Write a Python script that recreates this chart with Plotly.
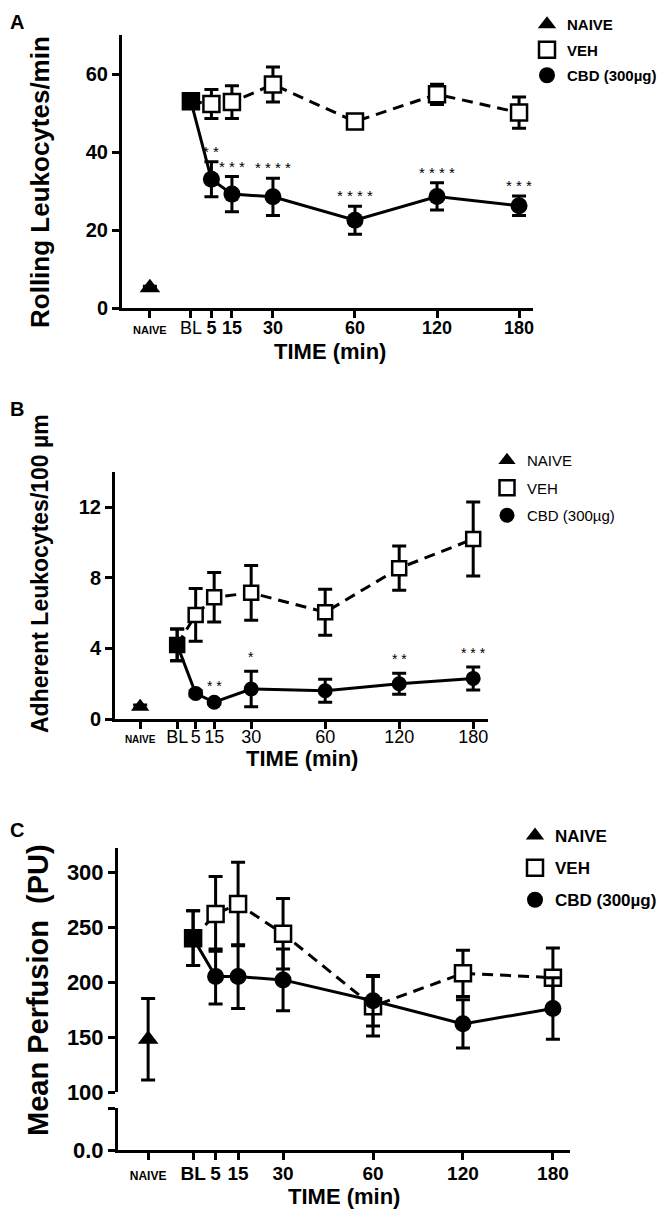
import plotly.graph_objects as go

# ---------------- data ----------------
CATEGORIES = ["NAIVE", "BL", "5", "15", "30", "60", "120", "180"]
TIMES = ["BL", "5", "15", "30", "60", "120", "180"]

# Panel A: Rolling leukocytes/min
A_NAIVE = [5.2]
A_NAIVE_ERR = [0.4]
A_VEH = [53.0, 52.3, 52.8, 57.3, 47.8, 54.8, 50.1]
A_VEH_ERR = [1.5, 3.7, 4.2, 4.5, 0.8, 2.6, 4.0]
A_CBD = [53.0, 33.0, 29.2, 28.5, 22.5, 28.6, 26.2]
A_CBD_ERR = [1.5, 4.5, 4.5, 4.8, 3.6, 3.5, 2.5]
A_STARS = ["", "**", "***", "****", "****", "****", "***"]

# Panel B: Adherent leukocytes/100 µm
B_NAIVE = [0.7]
B_NAIVE_ERR = [0.1]
B_VEH = [4.2, 5.9, 6.9, 7.15, 6.05, 8.55, 10.2]
B_VEH_ERR = [0.9, 1.5, 1.4, 1.55, 1.3, 1.25, 2.1]
B_CBD = [4.2, 1.45, 0.95, 1.7, 1.6, 2.0, 2.3]
B_CBD_ERR = [0.9, 0.15, 0.1, 1.0, 0.65, 0.6, 0.65]
B_STARS = ["", "", "**", "*", "", "**", "***"]

# Panel C: Mean perfusion (PU)
C_NAIVE = [148]
C_NAIVE_ERR = [37]
C_VEH = [240, 262, 271, 244, 178, 208, 204]
C_VEH_ERR = [25, 34, 38, 32, 27, 21, 27]
C_CBD = [240, 205, 205, 202, 183, 162, 176]
C_CBD_ERR = [25, 25, 29, 28, 23, 22, 28]

LEGEND_NAMES = ["NAIVE", "VEH", "CBD (300µg)"]

# ---------------- layout constants ----------------
PAGE_W, PAGE_H = 668, 1218
BODY = 8                      # default page margin around the plot div
W, H = PAGE_W - 2 * BODY, PAGE_H - 2 * BODY
FONT = "Liberation Sans, Arial, sans-serif"
SLOT = [0, 1, 1.5, 2, 3, 5, 7, 9]  # horizontal slot of each category on the axis
POS = dict(zip(CATEGORIES, SLOT))


def fx(p):
    return (p - BODY) / W


def fy(p):
    return 1 - (p - BODY) / H


def ydom(top, bottom):
    return [fy(bottom), fy(top)]


fig = go.Figure()

AXIS = dict(showline=True, linewidth=3, linecolor="black", ticks="outside",
            ticklen=7, tickwidth=3, tickcolor="black", showgrid=False,
            zeroline=False, fixedrange=True, automargin=False)


def xticktext(style):
    out = []
    for c in CATEGORIES:
        if c == "NAIVE":
            out.append("<span style='font-size:%dpx'><b>NAIVE</b></span>" % style["naive"])
        elif c == "BL":
            out.append("<b>BL</b>" if style["bl_bold"] else "BL")
        else:
            out.append("<b>%s</b>" % c if style["num_bold"] else c)
    return out


def add_panel(xa, ya, naive, naive_err, veh, veh_err, cbd, cbd_err, msize, lw, cap):
    xs = [POS[t] for t in TIMES]
    fig.add_trace(go.Scatter(
        x=[POS["NAIVE"]], y=naive, mode="markers", xaxis=xa, yaxis=ya,
        marker=dict(symbol="triangle-up", size=msize + 2, color="black", opacity=1),
        error_y=dict(type="data", array=naive_err, color="black", thickness=lw, width=cap),
        showlegend=False, hoverinfo="skip"))
    fig.add_trace(go.Scatter(
        x=xs, y=veh, mode="lines+markers", xaxis=xa, yaxis=ya,
        line=dict(color="black", width=lw, dash="11px,7px"),
        marker=dict(symbol="square", size=msize, color="white", opacity=1,
                    line=dict(color="black", width=2.5)),
        error_y=dict(type="data", array=veh_err, color="black", thickness=lw, width=cap),
        showlegend=False, hoverinfo="skip"))
    fig.add_trace(go.Scatter(
        x=xs, y=cbd, mode="lines+markers", xaxis=xa, yaxis=ya,
        line=dict(color="black", width=lw),
        marker=dict(symbol=["square"] + ["circle"] * (len(TIMES) - 1),
                    size=[msize] + [msize + 1] * (len(TIMES) - 1), color="black",
                    opacity=1, line=dict(width=0)),
        error_y=dict(type="data", array=cbd_err, color="black", thickness=lw, width=cap),
        showlegend=False, hoverinfo="skip"))


def add_stars(xref, yref, cbd, cbd_err, stars, yshift, size):
    for t, v, e, s in zip(TIMES, cbd, cbd_err, stars):
        if not s:
            continue
        fig.add_annotation(x=POS[t], y=v + e, xref=xref, yref=yref, text=" ".join(s),
                           showarrow=False, yanchor="bottom", yshift=yshift,
                           font=dict(family=FONT, size=size, color="black"))


def add_legend(lname, xa, ya, msize):
    specs = [dict(symbol="triangle-up", color="black"),
             dict(symbol="square", color="white", line=dict(color="black", width=2.5)),
             dict(symbol="circle", color="black")]
    for i, (nm, mk) in enumerate(zip(LEGEND_NAMES, specs)):
        fig.add_trace(go.Scatter(x=[None], y=[None], mode="markers", xaxis=xa, yaxis=ya,
                                 marker=dict(size=msize, **mk), name=nm, legend=lname,
                                 legendgroup=lname + str(i), showlegend=True,
                                 hoverinfo="skip"))


# ---- Panel A ----
add_panel("x", "y", A_NAIVE, A_NAIVE_ERR, A_VEH, A_VEH_ERR, A_CBD, A_CBD_ERR, 16, 3, 7)
add_stars("x", "y", A_CBD, A_CBD_ERR, A_STARS, 0, 15)
add_legend("legend", "x", "y", 16)

# ---- Panel B ----
add_panel("x2", "y2", B_NAIVE, B_NAIVE_ERR, B_VEH, B_VEH_ERR, B_CBD, B_CBD_ERR, 14, 3, 7)
add_stars("x2", "y2", B_CBD, B_CBD_ERR, B_STARS, 4, 14)
add_legend("legend2", "x2", "y2", 15)

# ---- Panel C ----
add_panel("x3", "y3", C_NAIVE, C_NAIVE_ERR, C_VEH, C_VEH_ERR, C_CBD, C_CBD_ERR, 16, 3, 7)
fig.add_trace(go.Scatter(x=[None], y=[None], xaxis="x3", yaxis="y4", mode="markers",
                         showlegend=False, hoverinfo="skip"))
add_legend("legend3", "x3", "y3", 16)

tick_b = dict(family=FONT, size=20, color="black", weight="bold")

fig.update_layout(
    width=W, height=H, autosize=False,
    margin=dict(l=0, r=0, t=0, b=0, pad=0, autoexpand=False),
    paper_bgcolor="white", plot_bgcolor="white",
    font=dict(family=FONT, color="black"),
    # panel A
    xaxis=dict(AXIS, domain=[fx(122), fx(533)], range=[-0.68, 9.34], anchor="y",
               tickvals=SLOT, ticktext=xticktext(dict(naive=11, bl_bold=False, num_bold=True)),
               tickfont=dict(family=FONT, size=18, color="black"), ticklabelstandoff=-6),
    yaxis=dict(AXIS, domain=ydom(35, 308), range=[0, 70], anchor="x",
               tickvals=[0, 20, 40, 60], tickfont=tick_b),
    # panel B
    xaxis2=dict(AXIS, domain=[fx(115), fx(488)], range=[-0.68, 9.4], anchor="y2",
                tickvals=SLOT, ticktext=xticktext(dict(naive=10, bl_bold=False, num_bold=False)),
                tickfont=dict(family=FONT, size=18, color="black"), ticklabelstandoff=-8),
    yaxis2=dict(AXIS, domain=ydom(472, 719), range=[0, 14], anchor="x2",
                tickvals=[0, 4, 8, 12], tickfont=tick_b),
    # panel C (broken y axis)
    xaxis3=dict(AXIS, domain=[fx(118), fx(570)], range=[-0.67, 9.38], anchor="y4",
                tickvals=SLOT, ticktext=xticktext(dict(naive=12, bl_bold=True, num_bold=True)),
                tickfont=dict(family=FONT, size=19, color="black"), ticklabelstandoff=-3),
    yaxis3=dict(AXIS, domain=ydom(848, 1092), range=[100, 322], anchor="x3",
                tickvals=[100, 150, 200, 250, 300], tickfont=dict(tick_b, size=22)),
    yaxis4=dict(AXIS, domain=ydom(1108, 1150), range=[0, 1], anchor="x3",
                tickvals=[0, 1], ticktext=["0.0", ""], tickfont=dict(tick_b, size=22)),
    legend=dict(x=fx(527), y=fy(8), xanchor="left", yanchor="top",
                bgcolor="rgba(0,0,0,0)", tracegroupgap=3, itemsizing="trace",
                font=dict(family=FONT, size=15, color="black", weight="bold")),
    legend2=dict(x=fx(487), y=fy(444), xanchor="left", yanchor="top",
                 bgcolor="rgba(0,0,0,0)", tracegroupgap=5, itemsizing="trace",
                 font=dict(family=FONT, size=15, color="black")),
    legend3=dict(x=fx(515), y=fy(818), xanchor="left", yanchor="top",
                 bgcolor="rgba(0,0,0,0)", tracegroupgap=7, itemsizing="trace",
                 font=dict(family=FONT, size=17, color="black", weight="bold")),
)

# titles and panel letters
def label(x, y, text, size, angle=0, bold=True):
    fig.add_annotation(x=fx(x), y=fy(y), xref="paper", yref="paper", text=text,
                       showarrow=False, textangle=angle, xanchor="center", yanchor="middle",
                       font=dict(family=FONT, size=size, color="black",
                                 weight="bold" if bold else "normal"))

label(17, 22, "A", 20)
label(17, 409, "B", 20)
label(17, 830, "C", 20)
label(40, 182, "Rolling Leukocytes/min", 26, -90)
label(40, 574, "Adherent Leukocytes/100 µm", 23, -90)
label(38, 990, "Mean Perfusion  (PU)", 29, -90)
label(330, 352, "TIME (min)", 22)
label(302, 758, "TIME (min)", 22)
label(344, 1196, "TIME (min)", 22)

fig.write_html("out.html")
